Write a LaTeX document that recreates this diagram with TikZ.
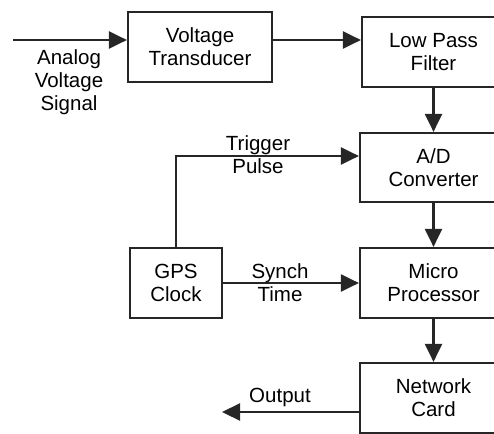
\documentclass[tikz,border=0pt]{standalone}
\usepackage{fontspec}
\setmainfont{Liberation Sans}
\usetikzlibrary{arrows.meta}
\begin{document}
\begin{tikzpicture}[x=1pt,y=-1pt,
  box/.style={draw=black!85,line width=2.2pt,rectangle,inner sep=0pt,align=center,
    font=\fontsize{20.5}{23}\selectfont},
  lbl/.style={inner sep=0pt,align=center,font=\fontsize{20.5}{23}\selectfont},
  arr/.style={draw=black!85,line width=2.2pt,-{Triangle[length=18pt,width=17pt]}}]
\useasboundingbox (0,0) rectangle (494,433);
\clip (0,0) rectangle (494,433);
\node[box,minimum width=144pt,minimum height=70pt] (VT) at (200,47) {Voltage\\Transducer};
\node[box,minimum width=143pt,minimum height=70pt] (LPF) at (433.5,52) {Low Pass\\Filter};
\node[box,minimum width=147pt,minimum height=69pt] (AD) at (433.5,167.5) {A/D\\Converter};
\node[box,minimum width=147pt,minimum height=70pt] (MP) at (433.5,283) {Micro\\Processor};
\node[box,minimum width=147pt,minimum height=70pt] (NC) at (433.5,398) {Network\\Card};
\node[box,minimum width=92pt,minimum height=70pt] (GPS) at (176,283) {GPS\\Clock};
\coordinate (in) at (13,40);
\draw[arr] (in) -- (in -| VT.west);
\node[lbl] (ain) at (69,82) {Analog\\Voltage\\Signal};
\coordinate (vtout) at ([yshift=7pt]VT.east);
\draw[arr] (vtout) -- (vtout -| LPF.west);
\draw[arr] (LPF.south) -- (AD.north);
\coordinate (trig) at ([yshift=11.5pt]AD.west);
\draw[arr] (GPS.north) |- (trig);
\node[lbl] (tp) at (258,155) {Trigger\\Pulse};
\draw[arr] (GPS.east) -- (MP.west);
\node[lbl] (st) at (280,283) {Synch\\Time};
\draw[arr] (AD.south) -- (MP.north);
\draw[arr] (MP.south) -- (NC.north);
\coordinate (outs) at ([yshift=-14pt]NC.west);
\coordinate (oute) at (222,412);
\draw[arr] (outs) -- (oute);
\node[lbl] (ol) at (280,397) {Output};
\end{tikzpicture}
\end{document}
